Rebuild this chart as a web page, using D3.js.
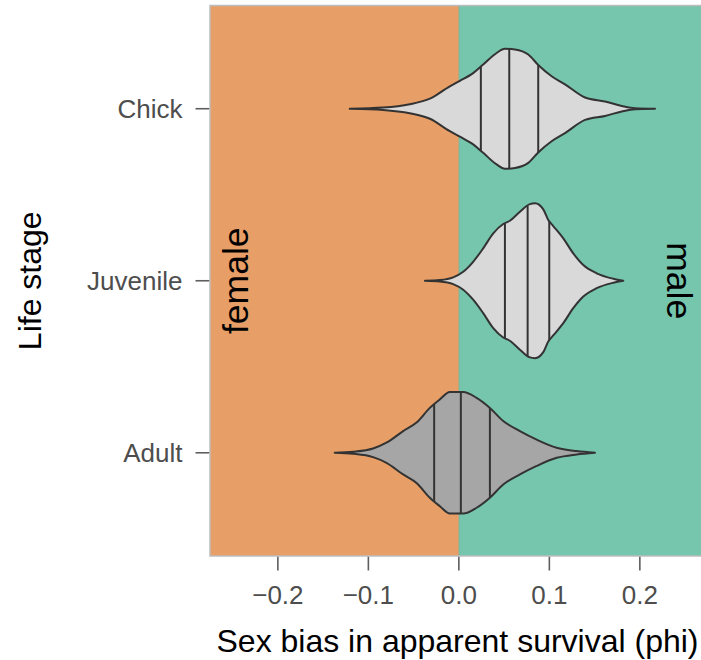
<!DOCTYPE html>
<html>
<head>
<meta charset="utf-8">
<script src="https://cdn.jsdelivr.net/npm/d3@7"></script>
<style>
body { margin: 0; background: #fff; }
text { font-family: "Liberation Sans", Arial, Helvetica, sans-serif; }
</style>
</head>
<body>
<svg id="chart" width="701" height="660"></svg>
<script>
// life stages, top to bottom
var stages = ["Chick", "Juvenile", "Adult"];

// violin outlines: x = sex bias, dens = relative density
var chickX = [-0.1206, -0.0837, -0.0542, -0.032, -0.01, 0.0011, 0.0158, 0.0269, 0.0417, 0.0509,
              0.062, 0.0767, 0.0877, 0.1025, 0.1173, 0.1394, 0.1615, 0.18, 0.1947, 0.2168];
var chickDens = [0, 0.015, 0.058, 0.13, 0.29, 0.36, 0.46, 0.57, 0.72, 0.775,
                 0.765, 0.70, 0.565, 0.42, 0.315, 0.145, 0.093, 0.036, 0.006, 0];

var juvenileX = [-0.0375, -0.021, -0.0063, 0.0048, 0.0158, 0.0269, 0.038, 0.049, 0.0564, 0.0675,
                 0.0785, 0.0841, 0.0933, 0.0988, 0.1043, 0.1154, 0.1264, 0.1375, 0.1523, 0.1707, 0.1817];
var juvenileDens = [0, 0.009, 0.044, 0.116, 0.245, 0.419, 0.612, 0.733, 0.775, 0.891,
                    0.99, 1.0, 0.922, 0.784, 0.707, 0.548, 0.354, 0.203, 0.096, 0.026, 0];

var adultX = [-0.1372, -0.1169, -0.0948, -0.08, -0.0616, -0.0468, -0.0321, -0.021, -0.01, 0.0048,
              0.0196, 0.0343, 0.049, 0.0675, 0.086, 0.1081, 0.1302, 0.1504];
var adultDens = [0, 0.013, 0.056, 0.13, 0.28, 0.39, 0.58, 0.69, 0.785, 0.785,
                 0.71, 0.58, 0.41, 0.28, 0.17, 0.065, 0.022, 0];

// 25%, 50%, 75% quantiles
var chickQuart = [0.0243, 0.0557, 0.0877];
var juvenileQuart = [0.0509, 0.076, 0.0999];
var adultQuart = [-0.0273, 0.0022, 0.0343];

var xTicks = [-0.2, -0.1, 0, 0.1, 0.2];
var xLimits = [-0.275, 0.272];
var sideLabels = ["female", "male"];

var violins = [
    {stage: "Chick", xs: chickX, dens: chickDens, quart: chickQuart},
    {stage: "Juvenile", xs: juvenileX, dens: juvenileDens, quart: juvenileQuart},
    {stage: "Adult", xs: adultX, dens: adultDens, quart: adultQuart}
];

var svg = d3.select("#chart"),
    panel = {left: 210, right: 705, top: 5.5, bottom: 556};

var x = d3.scaleLinear()
        .domain(xLimits)
        .range([panel.left, panel.right]);

var y = d3.scalePoint()
        .domain(stages)
        .range([panel.top, panel.bottom])
        .padding(0.6);

var maxDens = d3.max(violins, function(v) { return d3.max(v.dens); });
var w = d3.scaleLinear()
        .domain([0, maxDens])
        .range([0, 0.45 * y.step()]);

var fillFor = {Chick: "#d9d9d9", Juvenile: "#d9d9d9", Adult: "#a6a6a6"};

// background halves
svg.append("rect")
    .attr("x", x(xLimits[0])).attr("y", panel.top)
    .attr("width", x(0) - x(xLimits[0]))
    .attr("height", panel.bottom - panel.top)
    .attr("fill", "#e89f67");
svg.append("rect")
    .attr("x", x(0)).attr("y", panel.top)
    .attr("width", x(xLimits[1]) - x(0))
    .attr("height", panel.bottom - panel.top)
    .attr("fill", "#76c5ad");
svg.append("line")
    .attr("x1", x(0)).attr("x2", x(0))
    .attr("y1", panel.top).attr("y2", panel.bottom)
    .attr("stroke", "#8a9a80").attr("stroke-width", 0.6);

// side labels
svg.append("text")
    .attr("transform", "translate(" + (x(0) - 211) + "," + ((panel.top + panel.bottom) / 2) + ") rotate(-90)")
    .attr("text-anchor", "middle")
    .style("font-size", "35.5px")
    .attr("fill", "#000")
    .text(sideLabels[0]);
svg.append("text")
    .attr("transform", "translate(" + (x(0) + 208.5) + "," + ((panel.top + panel.bottom) / 2) + ") rotate(90)")
    .attr("text-anchor", "middle")
    .style("font-size", "35.5px")
    .attr("fill", "#000")
    .text(sideLabels[1]);

// violins
function densAt(v, q) {
    var i = d3.bisectLeft(v.xs, q);
    if (i <= 0) { return v.dens[0]; }
    if (i >= v.xs.length) { return v.dens[v.dens.length - 1]; }
    var t = (q - v.xs[i - 1]) / (v.xs[i] - v.xs[i - 1]);
    return v.dens[i - 1] + t * (v.dens[i] - v.dens[i - 1]);
}

var area = d3.area()
        .curve(d3.curveMonotoneX)
        .x(function(d) { return x(d.x); })
        .y0(function(d) { return d.cy - w(d.d); })
        .y1(function(d) { return d.cy + w(d.d); });

var groups = svg.selectAll(".violin")
        .data(violins)
        .enter().append("g")
        .attr("class", "violin");

groups.append("path")
    .attr("d", function(v) {
        var cy = y(v.stage);
        return area(v.xs.map(function(xv, i) { return {x: xv, d: v.dens[i], cy: cy}; }));
    })
    .attr("fill", function(v) { return fillFor[v.stage]; })
    .attr("stroke", "#333")
    .attr("stroke-width", 2)
    .attr("stroke-linejoin", "round");

groups.selectAll(".quart")
    .data(function(v) {
        return v.quart.map(function(q) { return {q: q, cy: y(v.stage), half: w(densAt(v, q))}; });
    })
    .enter().append("line")
    .attr("class", "quart")
    .attr("x1", function(d) { return x(d.q); })
    .attr("x2", function(d) { return x(d.q); })
    .attr("y1", function(d) { return d.cy - d.half; })
    .attr("y2", function(d) { return d.cy + d.half; })
    .attr("stroke", "#333")
    .attr("stroke-width", 2);

// panel border
svg.append("rect")
    .attr("x", panel.left).attr("y", panel.top)
    .attr("width", panel.right - panel.left)
    .attr("height", panel.bottom - panel.top)
    .attr("fill", "none")
    .attr("stroke", "#bdbdbd")
    .attr("stroke-width", 1.5);

// x axis
var xAxis = svg.append("g");
xAxis.selectAll(".tick")
    .data(xTicks)
    .enter().append("line")
    .attr("x1", function(d) { return x(d); })
    .attr("x2", function(d) { return x(d); })
    .attr("y1", panel.bottom + 0.75)
    .attr("y2", panel.bottom + 14.5)
    .attr("stroke", "#5e5e5e")
    .attr("stroke-width", 1.6);
xAxis.selectAll(".ticklab")
    .data(xTicks)
    .enter().append("text")
    .attr("x", function(d) { return x(d); })
    .attr("y", 604)
    .attr("text-anchor", "middle")
    .style("font-size", "26px")
    .attr("fill", "#4d4d4d")
    .text(d3.format(".1f"));

// y axis
var yAxis = svg.append("g");
yAxis.selectAll(".tick")
    .data(stages)
    .enter().append("line")
    .attr("x1", panel.left - 14.5)
    .attr("x2", panel.left - 0.75)
    .attr("y1", function(d) { return y(d); })
    .attr("y2", function(d) { return y(d); })
    .attr("stroke", "#5e5e5e")
    .attr("stroke-width", 1.6);
yAxis.selectAll(".ticklab")
    .data(stages)
    .enter().append("text")
    .attr("x", panel.left - 27.5)
    .attr("y", function(d) { return y(d); })
    .attr("dy", "0.36em")
    .attr("text-anchor", "end")
    .style("font-size", "26px")
    .attr("fill", "#4d4d4d")
    .text(function(d) { return d; });

// axis titles
svg.append("text")
    .attr("x", (panel.left + panel.right) / 2)
    .attr("y", 651.5)
    .attr("text-anchor", "middle")
    .style("font-size", "32px")
    .attr("fill", "#000")
    .text("Sex bias in apparent survival (phi)");
svg.append("text")
    .attr("transform", "translate(41," + ((panel.top + panel.bottom) / 2) + ") rotate(-90)")
    .attr("text-anchor", "middle")
    .style("font-size", "32px")
    .attr("fill", "#000")
    .text("Life stage");
</script>
</body>
</html>
